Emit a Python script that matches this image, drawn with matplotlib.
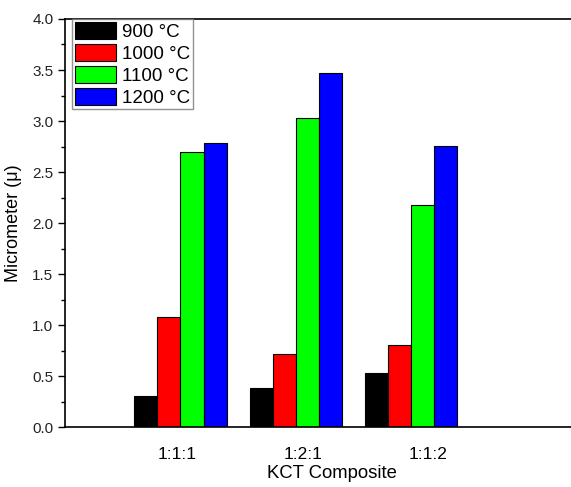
import numpy as np
import matplotlib.pyplot as plt
from matplotlib.ticker import MultipleLocator

plt.rcParams['font.family'] = ['Liberation Sans', 'DejaVu Sans']

composites = ["1:1:1", "1:2:1", "1:1:2"]
temps = ["900 °C", "1000 °C", "1100 °C", "1200 °C"]
colors = ["#000000", "#ff0000", "#00ff00", "#0000ff"]

size_900 = [0.30, 0.38, 0.53]
size_1000 = [1.08, 0.72, 0.80]
size_1100 = [2.70, 3.03, 2.18]
size_1200 = [2.78, 3.47, 2.76]
series = [size_900, size_1000, size_1100, size_1200]

fig = plt.figure(figsize=(5.71, 4.87), dpi=100)
ax = fig.add_axes([0.114, 0.123, 0.886, 0.838])

x = np.arange(1, len(composites) + 1)
width = 0.2
for i, (vals, label, c) in enumerate(zip(series, temps, colors)):
    ax.bar(x + (i - 1.5) * width, vals, width, color=c, edgecolor="black",
           linewidth=0.8, label=label)

ax.set_xlim(0.0, 4.385)
ax.set_ylim(0, 4.0)
yt = np.arange(0, 4.01, 0.5)
ax.set_yticks(yt)
ax.set_yticklabels([f"{v:.1f}" for v in yt], fontsize=11, color="#222222")
ax.yaxis.set_minor_locator(MultipleLocator(0.25))
ax.tick_params(axis="y", which="major", length=5, width=1.0, direction="out")
ax.tick_params(axis="y", which="minor", length=3, width=1.0, direction="out")

# category labels sit slightly off the group centres
ax.set_xticks(x + np.array([-0.026, 0.065, 0.147]))
ax.set_xticklabels(composites, fontsize=12.5)
ax.tick_params(axis="x", length=0, pad=14)

ax.spines["right"].set_visible(False)
for s in ["left", "bottom", "top"]:
    ax.spines[s].set_linewidth(1.2)

ax.set_xlabel("KCT Composite", fontsize=13.3, labelpad=0)
ax.xaxis.set_label_coords(0.528, -0.094)
ax.set_ylabel("Micrometer (μ)", fontsize=13, labelpad=7)

leg = ax.legend(loc="upper left", bbox_to_anchor=(0.014, 1.0), borderaxespad=0,
                fontsize=13.5, frameon=True, fancybox=False, edgecolor="#777777",
                handlelength=2.2, handleheight=1.05, handletextpad=0.3,
                labelspacing=0.15, borderpad=0.15)
leg.get_frame().set_linewidth(1.0)

fig.savefig("out.png", dpi=100)
